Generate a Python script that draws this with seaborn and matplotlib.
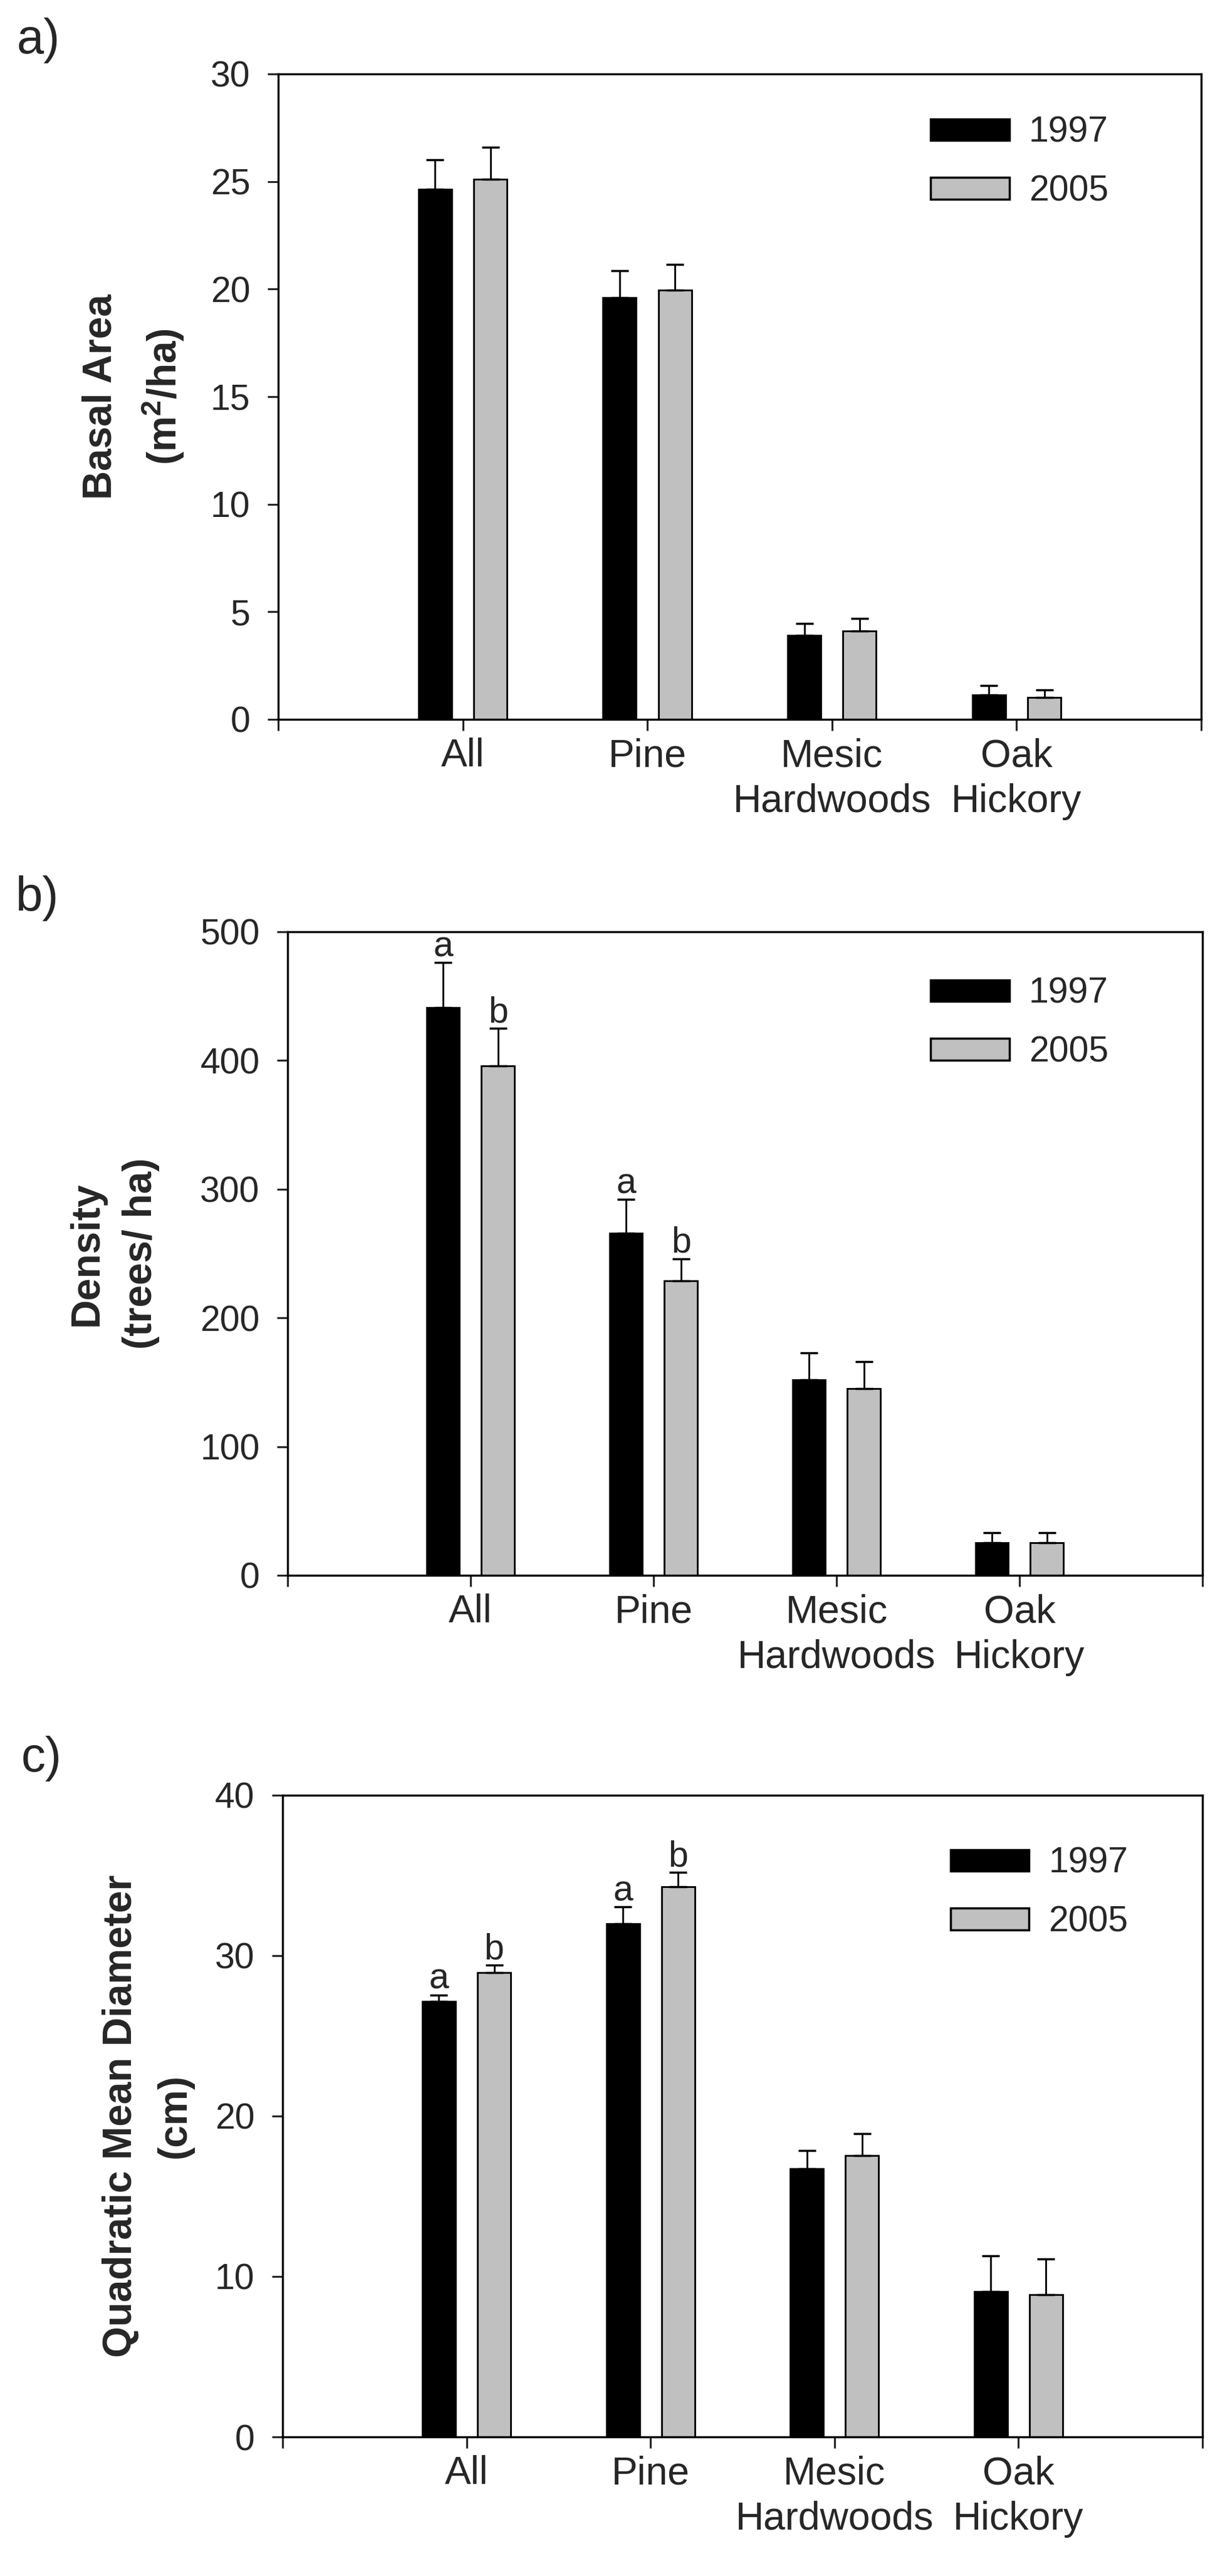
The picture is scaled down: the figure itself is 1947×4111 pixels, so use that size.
import numpy as np
import pandas as pd
import matplotlib
matplotlib.use("Agg")
import matplotlib.pyplot as plt
import seaborn as sns
from matplotlib.patches import Patch

# ---------------- data ----------------
categories = ["All", "Pine", "Mesic\nHardwoods", "Oak\nHickory"]
years = ["1997", "2005"]

basal_1997 = [24.65, 19.6, 3.9, 1.15]
basal_2005 = [25.1, 19.95, 4.12, 1.03]
basal_err_1997 = [1.35, 1.25, 0.55, 0.43]
basal_err_2005 = [1.5, 1.2, 0.57, 0.33]

density_1997 = [441, 266, 152, 25.5]
density_2005 = [396, 229, 145, 25.5]
density_err_1997 = [35, 26, 21, 7.5]
density_err_2005 = [29, 17, 21, 7.5]
density_letters_1997 = ["a", "a", "", ""]
density_letters_2005 = ["b", "b", "", ""]

qmd_1997 = [27.15, 32.0, 16.7, 9.05]
qmd_2005 = [28.95, 34.3, 17.55, 8.85]
qmd_err_1997 = [0.4, 1.05, 1.15, 2.25]
qmd_err_2005 = [0.45, 0.9, 1.35, 2.25]
qmd_letters_1997 = ["a", "a", "", ""]
qmd_letters_2005 = ["b", "b", "", ""]

panel_labels = ["a)", "b)", "c)"]
ylabels = ["Basal Area\n(m$^{\\mathbf{2}}$/ha)", "Density\n(trees/ ha)", "Quadratic Mean Diameter\n(cm)"]

# ---------------- style ----------------
sns.set_style("ticks")
plt.rcParams["font.family"] = ["Liberation Sans", "DejaVu Sans"]
plt.rcParams["mathtext.fontset"] = "custom"
plt.rcParams["mathtext.rm"] = "Liberation Sans"
plt.rcParams["mathtext.bf"] = "Liberation Sans:bold"

colors = {"1997": "#000000", "2005": "#c0c0c0"}

fig = plt.figure(figsize=(19.47, 41.11), dpi=100)

axes_rects = [
    [0.2280, 0.72075, 0.7566, 0.25055],
    [0.2357, 0.38847, 0.7499, 0.24982],
    [0.2316, 0.0540, 0.7540, 0.2491],
]
label_pos = [(27, 28), (25, 1397), (34, 2770)]
ylabel_x = [-0.100, -0.140, -0.097]
legend_anchor = [(0.707, 0.935), (0.703, 0.93), (0.726, 0.92)]


def draw_panel(idx, v97, v05, e97, e05, ylim, ystep, l97=None, l05=None):
    ax = fig.add_axes(axes_rects[idx])
    df = pd.DataFrame({
        "cat": categories * 2,
        "year": [years[0]] * 4 + [years[1]] * 4,
        "val": list(v97) + list(v05),
    })
    sns.barplot(data=df, x="cat", y="val", hue="year", order=categories,
                hue_order=years, palette=colors, width=0.6, gap=0.4,
                edgecolor="black", linewidth=2, errorbar=None,
                legend=False, ax=ax)
    for cont, errs, lets in zip(ax.containers, [e97, e05], [l97, l05]):
        xs = [b.get_x() + b.get_width() / 2 for b in cont]
        ys = [b.get_height() for b in cont]
        ax.errorbar(xs, ys, yerr=[np.zeros(len(errs)), errs], fmt="none",
                    ecolor="black", elinewidth=2, capsize=10, capthick=2.5,
                    zorder=3)
        if lets is not None:
            for x, y, e, t in zip(xs, ys, errs, lets):
                if t:
                    ax.annotate(t, (x, y + e), xytext=(0, 7),
                                textcoords="offset points", ha="center",
                                va="baseline", fontsize=41)
    ax.set_xlim(-1, 4)
    ax.set_xticks(range(-1, 5))
    ax.set_xticklabels([""] + categories + [""], fontsize=45, linespacing=1.3)
    ax.set_ylim(*ylim)
    ax.set_yticks(np.arange(ylim[0], ylim[1] + ystep / 2, ystep))
    ax.tick_params(axis="y", labelsize=41, length=12, width=2.2, pad=20,
                   direction="out")
    ax.tick_params(axis="x", length=13, width=2.2, pad=8, direction="out")
    for sp in ax.spines.values():
        sp.set_visible(True)
        sp.set_linewidth(2.4)
        sp.set_color("black")
    ax.set_xlabel("")
    ax.set_ylabel(ylabels[idx], fontsize=46, fontweight="bold", linespacing=1.55)
    ax.yaxis.set_label_coords(ylabel_x[idx], 0.5)
    handles = [Patch(facecolor=colors[y], edgecolor="black", linewidth=2.5)
               for y in years]
    ax.legend(handles, years, loc="upper left", bbox_to_anchor=legend_anchor[idx],
              frameon=False, fontsize=41, handlelength=2.2, handleheight=0.55,
              handletextpad=0.55, labelspacing=0.7, borderpad=0,
              borderaxespad=0)
    px, py = label_pos[idx]
    fig.text(px / 1947, 1 - py / 4111, panel_labels[idx], fontsize=56,
             ha="left", va="top")
    return ax


draw_panel(0, basal_1997, basal_2005, basal_err_1997, basal_err_2005,
           (0, 30), 5)
draw_panel(1, density_1997, density_2005, density_err_1997, density_err_2005,
           (0, 500), 100, density_letters_1997, density_letters_2005)
draw_panel(2, qmd_1997, qmd_2005, qmd_err_1997, qmd_err_2005,
           (0, 40), 10, qmd_letters_1997, qmd_letters_2005)

fig.savefig("out.png", dpi=100, facecolor="white")
